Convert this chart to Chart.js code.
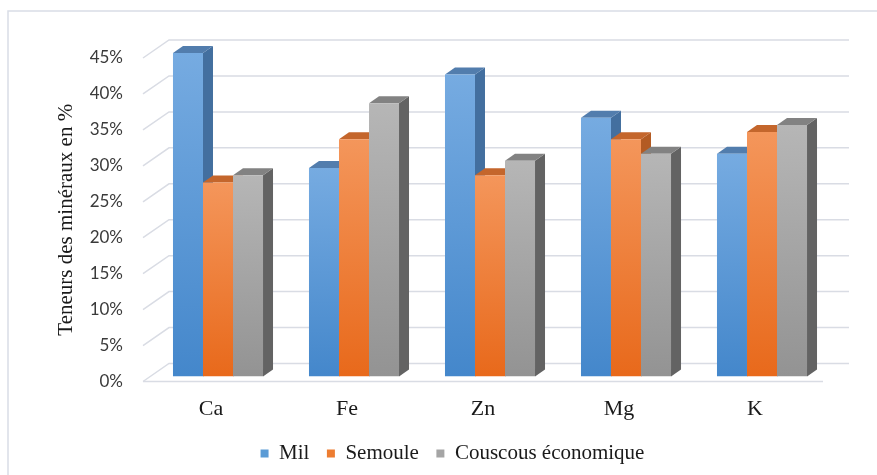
<!DOCTYPE html>
<html>
<head>
<meta charset="utf-8">
<script src="https://cdn.jsdelivr.net/npm/chart.js@4.4.1/dist/chart.umd.min.js"></script>
<style>
  html, body { margin: 0; padding: 0; background: #fff; }
  canvas { display: block; }
</style>
</head>
<body>
<canvas id="mychart" width="877" height="475"></canvas>
<script>
// categories on the x-axis
var minerals = ['Ca', 'Fe', 'Zn', 'Mg', 'K'];
// values in %, one array per series
var mil = [45, 29, 42, 36, 31];
var semoule = [27, 33, 28, 33, 34];
var couscous = [28, 38, 30, 31, 35];
var seriesNames = ['Mil', 'Semoule', 'Couscous économique'];
// y-axis ticks
var yMax = 45;
var yStep = 5;

// colours: front face top/bottom, side face, top face, legend swatch
var frontTop = ['#76abe1', '#f4965b', '#b6b6b6'];
var frontBottom = ['#4487cb', '#e8691b', '#939393'];
var sideCol = ['#436f9f', '#b35b23', '#636363'];
var topCol = ['#527dad', '#c4662c', '#828282'];
var legendCol = ['#5b9bd5', '#ed7d31', '#a5a5a5'];

// 3d look: bars sit a bit behind the front plane, walls further back
var barShift = { x: 7, y: -5 };
var barDepth = { x: 10, y: -7 };
var wallDepth = { x: 26, y: -18 };

function frontFill(i) {
  return function (ctx) {
    var chart = ctx.chart;
    var col = frontBottom[i];
    if (!chart.chartArea || !chart.scales.y) return col;
    var top = chart.scales.y.getPixelForValue(ctx.raw);
    var bottom = chart.scales.y.getPixelForValue(0);
    var g = chart.ctx.createLinearGradient(0, top, 0, bottom);
    g.addColorStop(0, frontTop[i]);
    g.addColorStop(1, frontBottom[i]);
    return g;
  };
}

var depth3d = {
  id: 'depth3d',
  afterLayout: function (chart) {
    // legend sits a little right of centre in the original
    chart.legend.left += 18;
    chart.legend.right += 18;
    chart.legend.top -= 1;
    chart.legend.bottom -= 1;
  },
  beforeDatasetsDraw: function (chart) {
    var c = chart.ctx, a = chart.chartArea, ys = chart.scales.y;
    c.save();
    // back wall gridlines with the diagonal floor edge
    c.strokeStyle = '#d9dce4';
    c.lineWidth = 1.5;
    ys.ticks.forEach(function (t) {
      var y = ys.getPixelForValue(t.value);
      c.beginPath();
      c.moveTo(a.left, y);
      c.lineTo(a.left + wallDepth.x, y + wallDepth.y);
      c.lineTo(a.right + wallDepth.x, y + wallDepth.y);
      c.stroke();
    });
    c.beginPath();
    c.moveTo(a.left, a.bottom);
    c.lineTo(a.right, a.bottom);
    c.stroke();

    // side and top faces, front faces are drawn by chart.js over them
    chart.data.datasets.forEach(function (ds, i) {
      chart.getDatasetMeta(i).data.forEach(function (bar) {
        var p = bar.getProps(['x', 'y', 'base', 'width'], true);
        var l = p.x - p.width / 2 + barShift.x;
        var r = p.x + p.width / 2 + barShift.x;
        var t = p.y + barShift.y;
        var b = p.base + barShift.y;
        c.fillStyle = sideCol[i];
        c.beginPath();
        c.moveTo(r, t);
        c.lineTo(r + barDepth.x, t + barDepth.y);
        c.lineTo(r + barDepth.x, b + barDepth.y);
        c.lineTo(r, b);
        c.closePath();
        c.fill();
        c.fillStyle = topCol[i];
        c.beginPath();
        c.moveTo(l, t);
        c.lineTo(l + barDepth.x, t + barDepth.y);
        c.lineTo(r + barDepth.x, t + barDepth.y);
        c.lineTo(r, t);
        c.closePath();
        c.fill();
      });
    });
    c.restore();
    c.save();
    c.translate(barShift.x, barShift.y);
  },
  afterDatasetsDraw: function (chart) {
    chart.ctx.restore();
  }
};

var ctx = document.getElementById('mychart');
var myChart = new Chart(ctx, {
  type: 'bar',
  data: {
    labels: minerals,
    datasets: [
      { label: seriesNames[0], data: mil, backgroundColor: frontFill(0) },
      { label: seriesNames[1], data: semoule, backgroundColor: frontFill(1) },
      { label: seriesNames[2], data: couscous, backgroundColor: frontFill(2) }
    ]
  },
  options: {
    responsive: false,
    animation: false,
    layout: { padding: { left: 46, right: 54, top: 58, bottom: 0 } },
    datasets: {
      bar: { categoryPercentage: 0.662, barPercentage: 1, borderWidth: 0 }
    },
    scales: {
      x: {
        grid: { display: false },
        border: { display: false },
        ticks: {
          color: '#1a1a1a',
          padding: 7,
          font: { family: '"Liberation Serif", "Times New Roman", serif', size: 22 }
        },
        afterFit: function (scale) { scale.height = 45; }
      },
      y: {
        min: 0,
        max: yMax,
        grid: { display: false, drawTicks: false },
        border: { display: false },
        ticks: {
          stepSize: yStep,
          padding: 20,
          color: '#3a3a3a',
          font: { family: 'Lato, "Open Sans", sans-serif', size: 17 },
          callback: function (v) { return v + '%'; }
        },
        title: {
          display: true,
          text: 'Teneurs des minéraux en %',
          color: '#1a1a1a',
          padding: { top: 8, bottom: 0 },
          font: { family: '"Liberation Serif", "Times New Roman", serif', size: 21, weight: 'normal' }
        },
        afterFit: function (scale) { scale.width = 97; }
      }
    },
    plugins: {
      tooltip: { enabled: false },
      legend: {
        display: true,
        position: 'bottom',
        labels: {
          boxWidth: 8,
          boxHeight: 8,
          padding: 17.5,
          color: '#1a1a1a',
          font: { family: '"Liberation Serif", "Times New Roman", serif', size: 21 },
          generateLabels: function (chart) {
            return seriesNames.map(function (n, i) {
              return { text: n, fillStyle: legendCol[i], strokeStyle: legendCol[i], lineWidth: 0, datasetIndex: i, fontColor: '#1a1a1a' };
            });
          }
        }
      }
    }
  },
  plugins: [depth3d, {
    id: 'frame',
    afterDraw: function (chart) {
      var c = chart.ctx;
      c.save();
      c.strokeStyle = '#d9dde6';
      c.lineWidth = 1.5;
      c.beginPath();
      c.moveTo(8, chart.height);
      c.lineTo(8, 11);
      c.lineTo(chart.width, 11);
      c.stroke();
      c.restore();
    }
  }]
});
</script>
</body>
</html>
